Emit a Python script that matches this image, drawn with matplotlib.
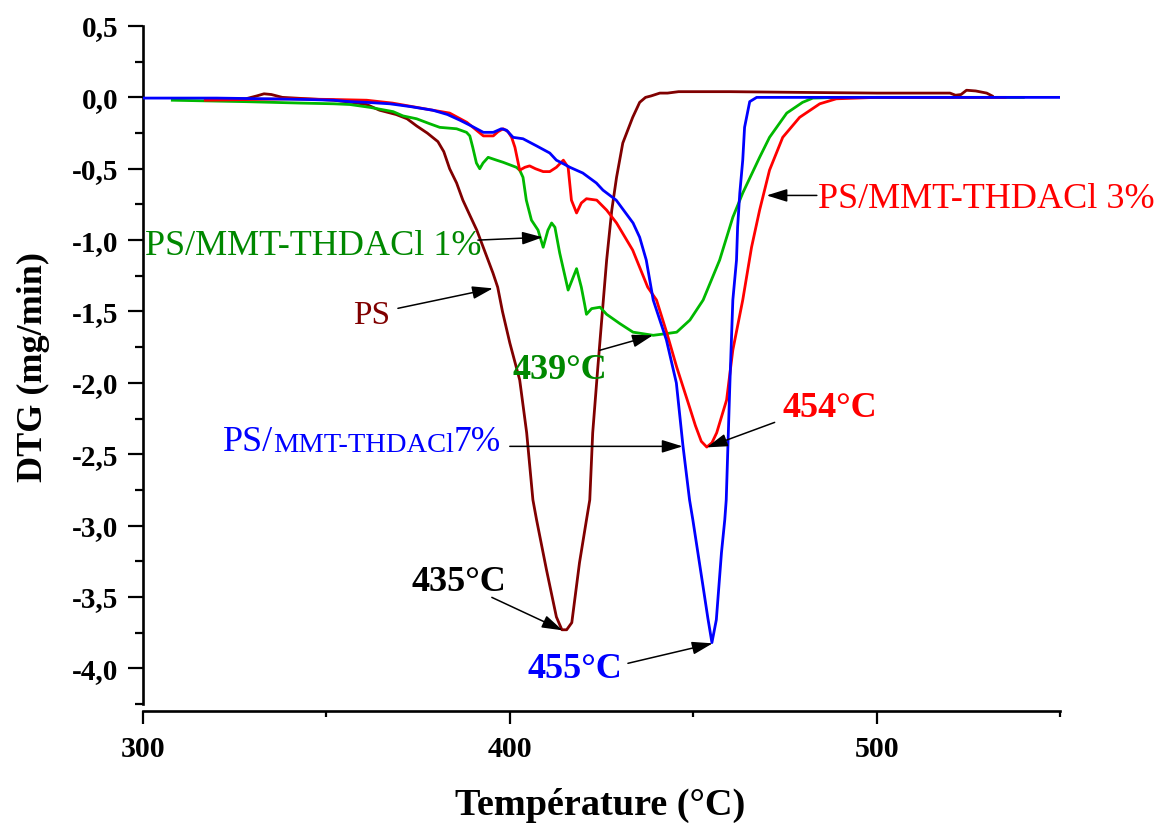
import matplotlib
matplotlib.use("Agg")
import matplotlib.pyplot as plt
from matplotlib.ticker import MultipleLocator, FuncFormatter

# ---- DTG curves: temperature (°C) and mass-loss rate (mg/min) ----
ps_temp = [317, 322, 328, 331, 333, 335, 338, 345, 352, 357,
           361, 364.5, 369, 372, 374.6, 377.5, 380.4, 382, 383.6, 385.5,
           387.2, 389, 391, 393.2, 395.4, 396.7, 398, 400, 402.7, 404.6,
           406.3, 407.3, 410, 412.7, 414.2, 415.5, 416.9, 419, 420.9, 421.8,
           422.6, 424, 425.5, 426.4, 427.8, 429.1, 430.8, 433.5, 435.4, 437,
           438.5, 440.9, 443, 446, 460, 479, 500, 520, 521.5, 523,
           524.5, 527, 530, 531.5]
ps_dtg = [-0.015, -0.015, -0.01, 0.01, 0.025, 0.02, 0.0, -0.01, -0.02, -0.035,
          -0.05, -0.09, -0.12, -0.15, -0.2, -0.25, -0.31, -0.38, -0.5, -0.6,
          -0.72, -0.82, -0.93, -1.08, -1.23, -1.33, -1.5, -1.72, -1.98, -2.35,
          -2.82, -2.96, -3.31, -3.64, -3.73, -3.73, -3.68, -3.26, -2.96, -2.82,
          -2.35, -1.89, -1.42, -1.14, -0.79, -0.56, -0.32, -0.14, -0.035, 0.0,
          0.01, 0.03, 0.03, 0.04, 0.04, 0.035, 0.03, 0.03, 0.015, 0.02,
          0.05, 0.045, 0.03, 0.01]

g_temp = [308, 328, 343, 352, 356.4, 361.9, 368.2, 370.9, 374.6, 378.2,
          380.9, 385.5, 388.2, 389.1, 389.9, 390.9, 391.8, 392.7, 394.1, 396.4,
          398.2, 401.8, 402.7, 403.6, 404.5, 405.9, 407.7, 409.1, 410.4, 411.4,
          412.3, 413.6, 415.9, 418.2, 419.5, 420.4, 420.9, 422.3, 424.6, 426.4,
          430.0, 433.6, 439.1, 442.7, 445.5, 449.1, 452.7, 457.2, 460.8, 463.5,
          468.1, 470.8, 475.5, 479.8, 482.6, 490, 540]
g_dtg = [-0.02, -0.03, -0.04, -0.045, -0.05, -0.07, -0.10, -0.13, -0.15, -0.185,
         -0.21, -0.22, -0.245, -0.27, -0.35, -0.46, -0.50, -0.46, -0.42, -0.44,
         -0.455, -0.49, -0.51, -0.56, -0.72, -0.86, -0.93, -1.05, -0.93, -0.88,
         -0.91, -1.09, -1.35, -1.2, -1.33, -1.45, -1.52, -1.48, -1.47, -1.52,
         -1.585, -1.645, -1.667, -1.655, -1.645, -1.56, -1.42, -1.14, -0.84, -0.67,
         -0.42, -0.28, -0.11, -0.035, -0.005, 0.0, 0.0]

r_temp = [317, 340, 352, 361, 368, 374.6, 379, 383.6, 388.3, 392.8,
          395.5, 396.8, 398.2, 399.5, 400.5, 401.4, 402.7, 404.1, 405.4, 407,
          409.1, 410.9, 412.7, 414.6, 415.9, 416.8, 418.2, 419.5, 420.9, 423.7,
          426.4, 429.1, 433.5, 437.6, 440, 442.8, 445.5, 449, 450.6, 452.2,
          453.7, 455.1, 456.4, 459.1, 460.8, 463.5, 465.9, 468.1, 470.8, 474.4,
          479, 484.5, 489, 500, 535]
r_dtg = [-0.02, -0.01, -0.015, -0.02, -0.04, -0.07, -0.09, -0.11, -0.175, -0.27,
         -0.27, -0.24, -0.22, -0.24, -0.28, -0.35, -0.51, -0.49, -0.48, -0.5,
         -0.52, -0.52, -0.49, -0.44, -0.49, -0.72, -0.81, -0.74, -0.71, -0.72,
         -0.79, -0.88, -1.07, -1.33, -1.42, -1.65, -1.89, -2.17, -2.30, -2.41,
         -2.45, -2.42, -2.35, -2.12, -1.77, -1.42, -1.05, -0.79, -0.51, -0.28,
         -0.14, -0.045, -0.01, 0.0, 0.0]

b_temp = [300, 320, 334, 345, 352, 356.4, 361, 367.3, 373, 379,
          383, 386.4, 389.5, 392.8, 395.5, 397.7, 399.1, 400.9, 403.6, 407.3,
          410.9, 412.7, 414.6, 416.4, 419.9, 423.6, 425.4, 429.0, 433.6, 435.4,
          437.2, 439.1, 442.7, 445.4, 447.2, 449.0, 449.9, 452.7, 454.0, 455.1,
          456.3, 457.7, 458.6, 459.0, 460.0, 460.8, 461.8, 462.1, 462.7, 463.5,
          464.0, 465.4, 467.3, 480, 500, 550]
b_dtg = [-0.005, -0.005, -0.01, -0.015, -0.02, -0.03, -0.035, -0.045, -0.065, -0.09,
         -0.12, -0.16, -0.2, -0.245, -0.245, -0.22, -0.23, -0.28, -0.29, -0.34,
         -0.39, -0.44, -0.465, -0.49, -0.53, -0.60, -0.65, -0.72, -0.88, -0.98,
         -1.14, -1.42, -1.70, -2.0, -2.44, -2.82, -2.96, -3.43, -3.65, -3.82,
         -3.66, -3.19, -2.96, -2.82, -2.0, -1.42, -1.14, -0.91, -0.67, -0.44,
         -0.21, -0.03, 0.0, 0.0, 0.0, 0.0]

x_ticks = [300, 400, 500]
x_label = "Température (°C)"
y_label = "DTG (mg/min)"

MAROON = "#800000"
GREEN = "#00b800"
GREEN_TXT = "#008800"
RED = "#ff0000"
BLUE = "#0000ff"

plt.rcParams["font.family"] = ["Liberation Serif", "DejaVu Serif"]
plt.rcParams["axes.unicode_minus"] = False

fig = plt.figure(figsize=(11.69, 8.23), dpi=100)
ax = fig.add_axes([0.1223, 0.1446, 0.7845, 0.8238])

lw = 2.0
ax.plot(ps_temp, ps_dtg, color=MAROON, lw=lw, zorder=3)
ax.plot(g_temp, g_dtg, color=GREEN, lw=lw, zorder=4)
ax.plot(r_temp, r_dtg, color=RED, lw=lw, zorder=5)
ax.plot(b_temp, b_dtg, color=BLUE, lw=lw, zorder=6)

ax.set_xlim(300, 550)
ax.set_ylim(-4.25, 0.5)

for side in ("top", "right"):
    ax.spines[side].set_visible(False)
for side in ("left", "bottom"):
    ax.spines[side].set_linewidth(1.9)
ax.spines["bottom"].set_position(("outward", 5))

ax.xaxis.set_major_locator(plt.FixedLocator(x_ticks))
ax.xaxis.set_minor_locator(MultipleLocator(50))
ax.yaxis.set_major_locator(MultipleLocator(0.5))
ax.yaxis.set_minor_locator(MultipleLocator(0.25))


def comma_fmt(v, _pos):
    s = f"{v:.1f}".replace(".", ",")
    return "0,0" if s == "-0,0" else s


ax.yaxis.set_major_formatter(FuncFormatter(comma_fmt))

ax.tick_params(axis="y", which="major", direction="out", length=10.5, width=1.6,
               pad=7, labelsize=21)
ax.tick_params(axis="y", which="minor", direction="out", length=5.5, width=1.6)
ax.tick_params(axis="x", which="major", direction="out", length=9, width=1.6,
               pad=9, labelsize=21.5)
ax.tick_params(axis="x", which="minor", direction="out", length=4.5, width=1.6)
for lab in ax.get_xticklabels() + ax.get_yticklabels():
    lab.set_fontweight("bold")

fig.text(600 / 1169, 1 - 815 / 823, x_label, ha="center", va="baseline",
         fontsize=27.5, fontweight="bold")
fig.text(42 / 1169, 1 - 366.5 / 823, y_label, ha="center", va="baseline",
         rotation=90, rotation_mode="anchor", fontsize=26, fontweight="bold")

# ---- curve labels ----
ax.text(300.5, -1.107, "PS/MMT-THDACl 1%", color=GREEN_TXT, fontsize=26,
        ha="left", va="baseline")
ax.text(357.2, -1.59, "PS", color=MAROON, fontsize=24, ha="left", va="baseline")
ax.text(483.9, -0.778, "PS/MMT-THDACl 3%", color=RED, fontsize=26,
        ha="left", va="baseline")

# blue label with small-caps middle part
t1 = ax.text(321.8, -2.48, "PS/", color=BLUE, fontsize=26, ha="left",
             va="baseline")
t2 = ax.annotate("MMT-THDACl", xy=(1, 0), xycoords=t1,
                 xytext=(0, 0.217 * 26), textcoords="offset points",
                 color=BLUE, fontsize=20.5, ha="left", va="baseline")
ax.annotate("7%", xy=(1, 0), xycoords=t2, xytext=(0, 0.217 * 20.5),
            textcoords="offset points", color=BLUE, fontsize=25.5,
            ha="left", va="baseline")

# peak temperatures
ax.text(400.8, -1.97, "439°C", color=GREEN_TXT, fontsize=26, fontweight="bold",
        ha="left", va="baseline")
ax.text(474.4, -2.24, "454°C", color=RED, fontsize=26, fontweight="bold",
        ha="left", va="baseline")
ax.text(373.3, -3.46, "435°C", color="black", fontsize=26, fontweight="bold",
        ha="left", va="baseline")
ax.text(404.9, -4.07, "455°C", color=BLUE, fontsize=26, fontweight="bold",
        ha="left", va="baseline")

# ---- pointer arrows (tail -> head) ----
arrows = [
    ((391.3, -1.00), (409.0, -0.98)),
    ((369.5, -1.478), (395.4, -1.338)),
    ((483.7, -0.687), (470.0, -0.687)),
    ((424.5, -1.772), (439.0, -1.667)),
    ((400.0, -2.445), (447.1, -2.445)),
    ((472.2, -2.277), (453.7, -2.452)),
    ((395.1, -3.503), (414.4, -3.734)),
    ((432.2, -3.965), (455.3, -3.825)),
]
for tail, head in arrows:
    ax.annotate("", xy=head, xytext=tail,
                arrowprops=dict(arrowstyle="-|>,head_length=0.9,head_width=0.28",
                                color="black", lw=1.1, mutation_scale=14,
                                shrinkA=0, shrinkB=0),
                zorder=8)

fig.savefig("out.png", dpi=100)
